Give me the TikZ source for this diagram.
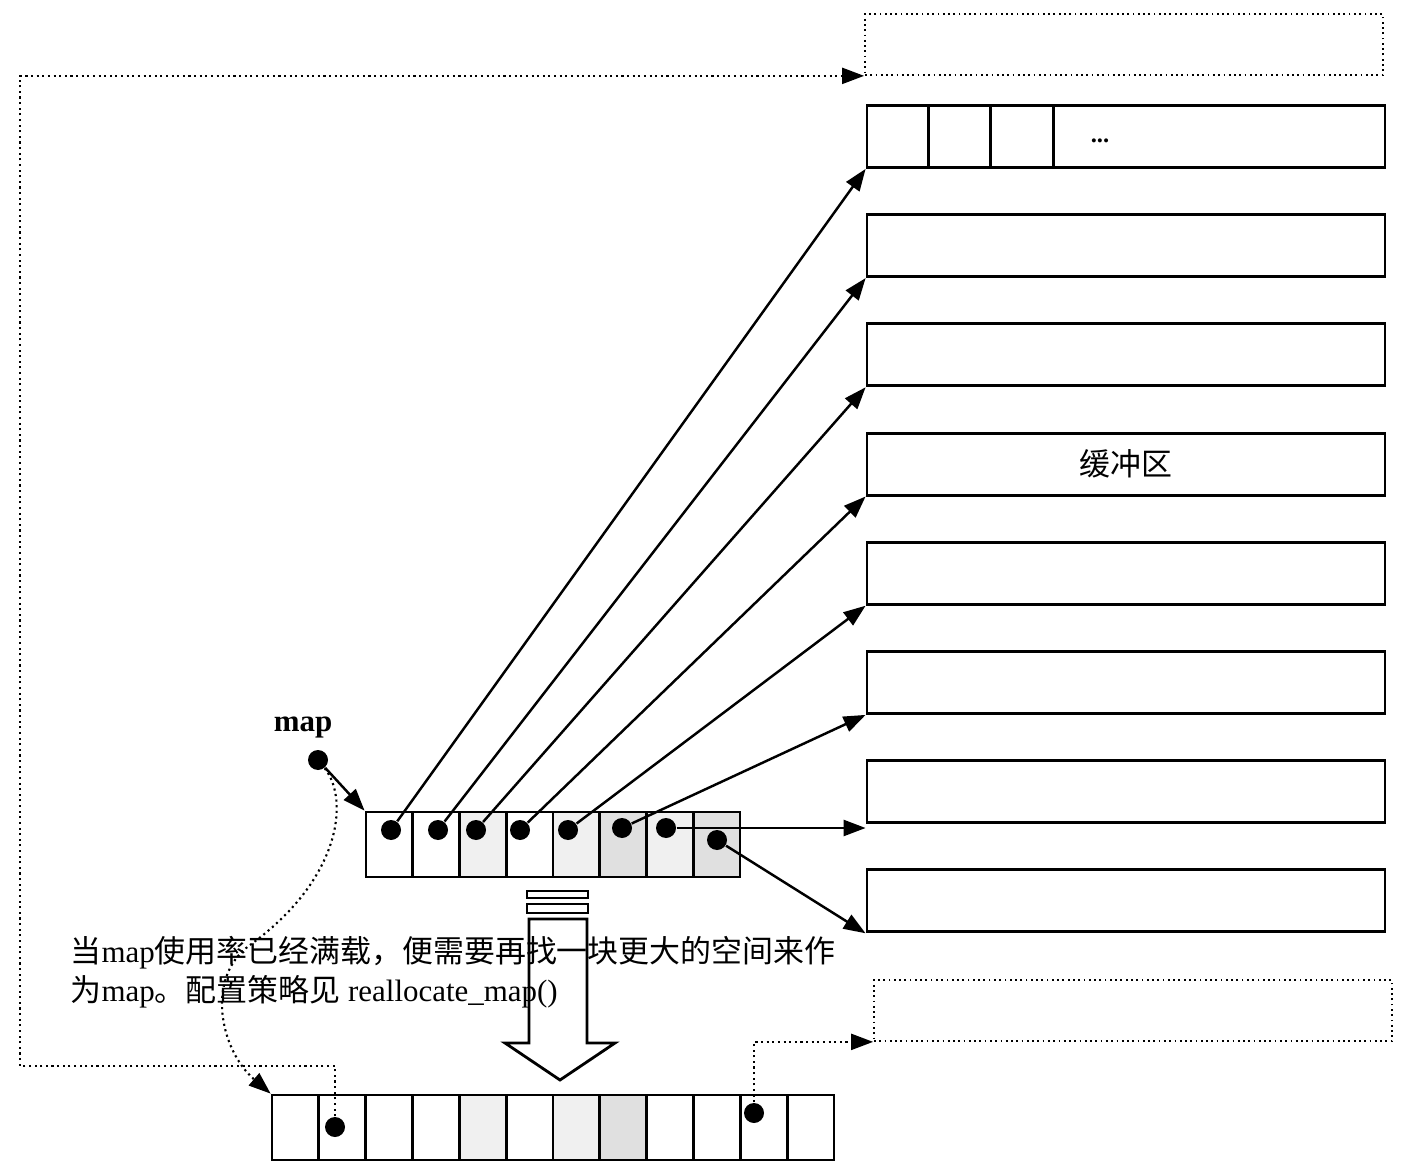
\documentclass[tikz,border=0pt]{standalone}
\usepackage{fontspec}
\setmainfont{Liberation Serif}
\newfontfamily\cjk{Noto Sans CJK SC}
\usetikzlibrary{arrows.meta,positioning,calc}
\definecolor{shadelt}{gray}{0.94}
\definecolor{shadedk}{gray}{0.88}
\tikzset{
  bufbox/.style   = {rectangle, draw, line width=0.8pt, minimum width=51.8mm,
                     minimum height=6.2mm, inner sep=0pt},
  newbuf/.style   = {rectangle, draw, densely dotted, line width=0.5pt, minimum width=51.8mm,
                     minimum height=6.1mm, inner sep=0pt},
  mapcell/.style  = {rectangle, draw, line width=0.8pt, minimum width=4.68mm,
                     minimum height=6.5mm, inner sep=0pt},
  ptrdot/.style   = {circle, fill, inner sep=0pt, minimum size=2mm},
  ptr/.style      = {-{Triangle[length=2.2mm,width=1.6mm]}, line width=0.7pt},
  dotptr/.style   = {-{Triangle[length=2.2mm,width=1.6mm]}, densely dotted, line width=0.6pt},
  notetext/.style = {font=\fontsize{8.8}{11}\selectfont, align=left, inner sep=0pt},
  bigarrow/.style = {draw, line width=0.8pt, fill=white},
}
\begin{document}
\begin{tikzpicture}[x=0.1mm, y=-0.1mm]
\useasboundingbox (0,0) rectangle (1402,1166);

% buffers
\node[newbuf] (bufT) at (1124,44.5) {};
\foreach \i in {1,...,8}
  \node[bufbox] (buf\i) at (1126,{136.5+109.2*(\i-1)}) {};
\node[newbuf] (bufB) at (1133,1010.5) {};
\foreach \k in {1,2,3}
  \draw[line width=0.8pt] ($(buf1.north west)+(62.5*\k,0)$) -- ($(buf1.south west)+(62.5*\k,0)$);
\node[font=\fontsize{7}{8}\selectfont\bfseries] (more) at (1100,141) {...};
\node[font=\fontsize{8.8}{11}\selectfont\cjk] (buflbl) at (buf4) {缓冲区};

% old map
\node[font=\fontsize{8.8}{11}\selectfont\bfseries] (maplbl) at (303,728) {map};
\node[ptrdot] (mapdot) at (318,760) {};
\foreach \i/\shade in {1/white,2/white,3/shadelt,4/white,5/shadelt,6/shadedk,7/shadelt,8/shadedk}
  \node[mapcell, fill=\shade] (c\i) at ({366+46.75*(\i-0.5)},844.5) {};
\foreach \i/\x/\y in {1/391/830, 2/438/830, 3/476/830, 4/520/830, 5/568/830, 6/622/828, 7/666/828, 8/717/840}
  \node[ptrdot] (p\i) at (\x,\y) {};
\draw[ptr] (mapdot) -- (c1.north west);
\foreach \i in {1,...,6}
  \draw[ptr] (p\i) -- (buf\i.south west);
\draw[ptr] (p7) -- (p7 -| buf7.west);
\draw[ptr] (p8) -- (buf8.south west);

% new map
\foreach \i/\shade in {1/white,2/white,3/white,4/white,5/shadelt,6/white,7/shadelt,8/shadedk,9/white,10/white,11/white,12/white}
  \node[mapcell, fill=\shade] (n\i) at ({272+46.83*(\i-0.5)},1127.5) {};
\node[ptrdot] (q1) at (335,1127) {};
\node[ptrdot] (q2) at (754,1113) {};
\coordinate (lowL) at (20,1066);
\draw[dotptr] (q1) |- (lowL) |- (bufT.south west);
\draw[dotptr] (q2) |- (bufB.south west);
\draw[dotptr] (mapdot) .. controls (350,800) and (340,880) .. (250,945)
  .. controls (205,977) and (220,1050) .. (n1.north west);

% realloc arrow
\draw[bigarrow] (527,891) rectangle (588,898);
\draw[bigarrow] (527,904) rectangle (588,913);
\draw[bigarrow] (529,1043) -- (529,919) -- (587,919) -- (587,1043) -- (615,1043)
  -- (560,1080) -- (505,1043) -- cycle;
\node[notetext, anchor=north west] (note) at (70,936)
  {{\cjk 当}map{\cjk 使用率已经满载，便需要再找一块更大的空间来作}\\
   {\cjk 为}map{\cjk 。配置策略见} reallocate\_map()};
\end{tikzpicture}
\end{document}
